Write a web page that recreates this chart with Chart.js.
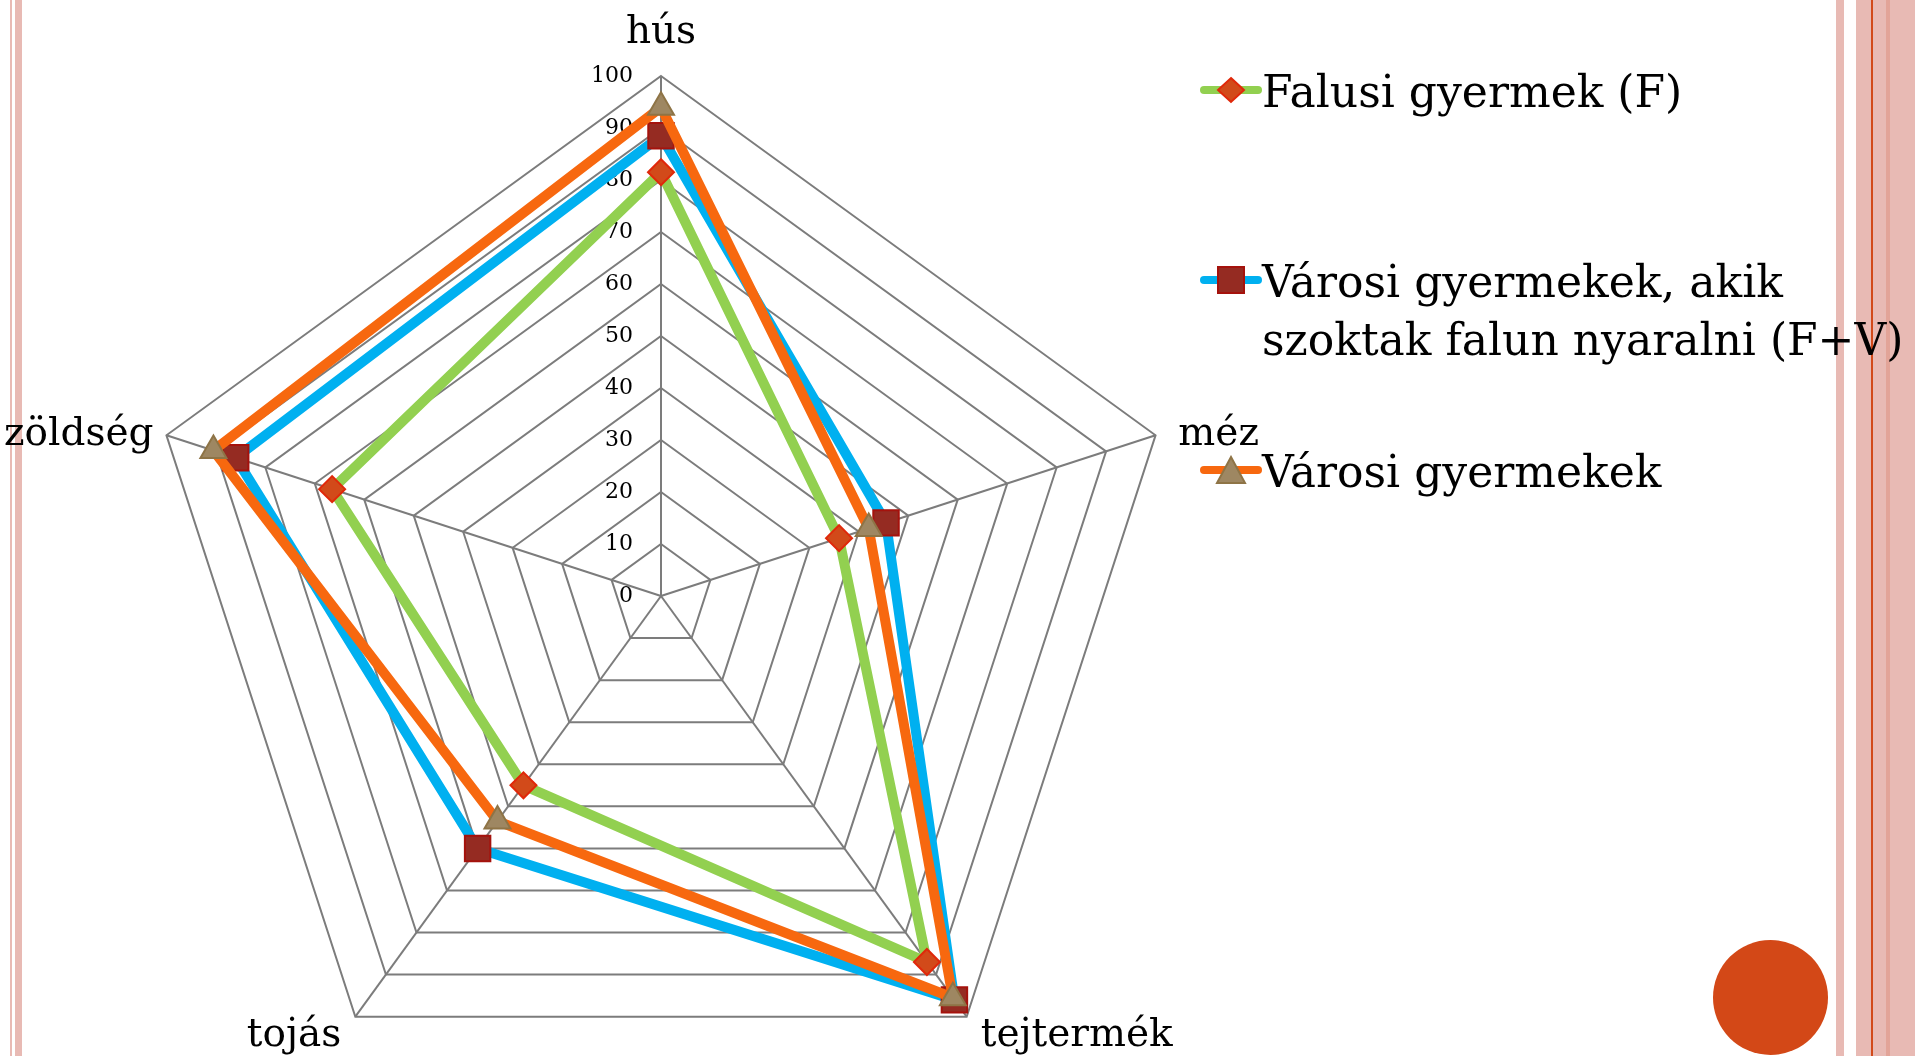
<!DOCTYPE html>
<html>
<head>
<meta charset="utf-8">
<script src="https://cdn.jsdelivr.net/npm/chart.js@4.4.1/dist/chart.umd.min.js"></script>
<style>
  html, body { margin: 0; padding: 0; background: #fff; overflow: hidden; width: 1915px; height: 1056px; }
  #wrap { position: absolute; left: 0; top: 0; width: 1915px; height: 1120px; }
  .deco { position: absolute; top: 0; height: 1056px; }
  #circle { position: absolute; left: 1713px; top: 940px; width: 115px; height: 115px; border-radius: 50%; background: #D34817; }
  #legend { position: absolute; left: 0; top: 0; z-index: 5; font-family: "DejaVu Serif", serif; font-size: 44px; line-height: 58px; color: #000; }
  .item { position: absolute; left: 1262px; width: 660px; }
  .sw { position: absolute; left: -62px; top: 12px; }
</style>
</head>
<body>
<div class="deco" style="left:10px;width:2px;background:#E8BAB4"></div>
<div class="deco" style="left:15px;width:7px;background:#E8BAB4"></div>
<div class="deco" style="left:1836px;width:8px;background:#E8BAB4"></div>
<div class="deco" style="left:1856px;width:59px;background:#E8BAB4"></div>
<div class="deco" style="left:1886px;width:4px;background:#E2A498"></div>
<div class="deco" style="left:1871px;width:2px;background:#D24A1A"></div>
<div id="circle"></div>
<div id="wrap"><canvas id="radar"></canvas></div>
<div id="legend"></div>
<script>
// radar chart: food preference by group
const categories = ["hús", "méz", "tejtermék", "tojás", "zöldség"];
const tickValues = [0, 10, 20, 30, 40, 50, 60, 70, 80, 90, 100];

const seriesNames = [
  "Falusi gyermek (F)",
  "Városi gyermekek, akik szoktak falun nyaralni (F+V)",
  "Városi gyermekek"
];
const falusi = [81.5, 36, 87, 45, 66.5];
const faluVaros = [88.5, 45.5, 96, 60, 86];
const varosi = [94, 42, 95.5, 53.5, 90.5];

const lineColors = ["#92D050", "#00B0F0", "#F7680F"];
const markerFill = ["#D24A1A", "#952B22", "#9E8762"];
const markerEdge = ["#E0280A", "#A5120C", "#8E7446"];
const markerStyle = ["rectRot", "rect", "triangle"];
const markerSize = [13, 18, 15];

const seriesData = [falusi, faluVaros, varosi];

const datasets = seriesData.map((vals, i) => ({
  label: seriesNames[i],
  data: vals,
  borderColor: lineColors[i],
  borderWidth: 10,
  borderJoinStyle: "round",
  fill: false,
  pointStyle: markerStyle[i],
  pointRadius: markerSize[i],
  pointBackgroundColor: markerFill[i],
  pointBorderColor: markerEdge[i],
  pointBorderWidth: 2,
  order: 3 - i
}));

const textPlugin = {
  id: "radarText",
  beforeDatasetsDraw(chart) {
    const sc = chart.scales.r;
    const ctx = chart.ctx;
    ctx.save();
    ctx.font = '22px "DejaVu Serif"';
    ctx.fillStyle = "#000";
    ctx.textAlign = "right";
    ctx.textBaseline = "middle";
    tickValues.forEach(v => {
      ctx.fillText(String(v), sc.xCenter - 28, sc.yCenter - sc.getDistanceFromCenterForValue(v));
    });
    ctx.restore();
  },
  afterDatasetsDraw(chart) {
    const sc = chart.scales.r;
    const ctx = chart.ctx;
    ctx.save();
    ctx.font = '39px "DejaVu Serif"';
    ctx.fillStyle = "#000";
    categories.forEach((name, i) => {
      const p = sc.getPointPosition(i, sc.drawingArea + 24);
      const tip = sc.getPointPosition(i, sc.drawingArea);
      const deg = i * 360 / categories.length;
      ctx.textAlign = deg === 0 ? "center" : (deg < 180 ? "left" : "right");
      ctx.textBaseline = deg === 0 ? "bottom" : "middle";
      let x = p.x;
      // side labels sit level with their spoke tip
      let y = (deg === 0 || deg === 144 || deg === 216) ? p.y : tip.y;
      // keep labels inside the canvas like the original does
      if (ctx.textAlign === "right") x = Math.max(x, ctx.measureText(name).width + 4);
      ctx.fillText(name, x, y);
    });
    ctx.restore();
  }
};

new Chart(document.getElementById("radar"), {
  type: "radar",
  data: { labels: categories, datasets },
  options: {
    responsive: true,
    maintainAspectRatio: false,
    animation: false,
    events: [],
    layout: { padding: { left: 141, right: 734, top: 76, bottom: 4 } },
    elements: { line: { tension: 0 } },
    plugins: { legend: { display: false }, tooltip: { enabled: false } },
    scales: {
      r: {
        min: 0,
        max: 100,
        ticks: { stepSize: 10, display: false },
        grid: { color: "#7C7C7C", lineWidth: 2 },
        angleLines: { color: "#7C7C7C", lineWidth: 2 },
        pointLabels: { display: false }
      }
    }
  },
  plugins: [textPlugin]
});

// legend built from the series arrays
const markerSvg = [
  '<polygon points="31,3 44,15 31,27 18,15"',
  '<rect x="18" y="2" width="26" height="26"',
  '<polygon points="31,2 45,28 17,28"'
];
const legend = document.getElementById("legend");
seriesNames.forEach((name, i) => {
  const item = document.createElement("div");
  item.className = "item";
  item.style.top = (63 + i * 190) + "px";
  item.innerHTML =
    '<svg class="sw" width="62" height="30">' +
    '<line x1="4" y1="15" x2="58" y2="15" stroke="' + lineColors[i] + '" stroke-width="8" stroke-linecap="round"/>' +
    markerSvg[i] + ' fill="' + markerFill[i] + '" stroke="' + markerEdge[i] + '" stroke-width="2"/>' +
    '</svg>' + name;
  legend.appendChild(item);
});
</script>
</body>
</html>
